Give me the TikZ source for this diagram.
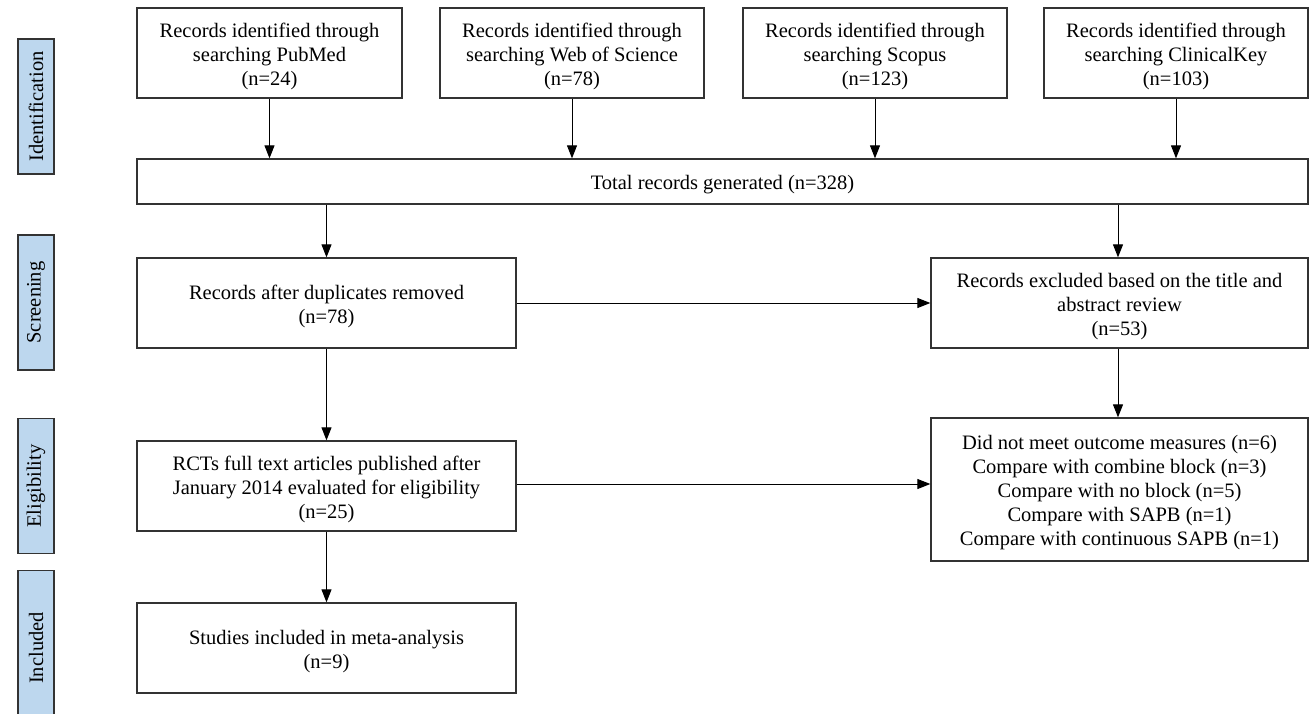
\documentclass[tikz,border=0pt]{standalone}
\usepackage{fontspec}
\setmainfont{Liberation Serif}
\usetikzlibrary{arrows.meta}
\definecolor{labfill}{HTML}{BDD7EE}
\definecolor{boxline}{HTML}{333333}
\tikzset{
  flowbox/.style={draw=boxline, line width=1.3pt, rectangle, align=center, inner sep=0pt,
    font=\fontsize{20.5}{24}\selectfont},
  phase/.style={draw=boxline, fill=labfill, line width=1.3pt, rectangle, inner sep=0pt,
    minimum width=36pt, minimum height=135pt, font=\fontsize{20.5}{24}\selectfont},
  flowarrow/.style={-{Triangle[length=13pt,width=10pt]}, line width=1pt, black}
}
\newcommand{\topstrut}{\rule{0pt}{21pt}}
\begin{document}
\begin{tikzpicture}[x=1pt,y=-1pt]
\useasboundingbox (0,0) rectangle (1311,713);
\fill[white] (0,0) rectangle (1311,713);

% phase labels
\node[phase] (idl) at (36,106.5) {\rotatebox{90}{Identification}};
\node[phase] (scl) at (36,302.5) {\rotatebox{90}{Screening}};
\node[phase] (ell) at (36,486) {\rotatebox{90}{Eligibility}};
\node[phase, minimum height=160pt, anchor=north] (inl) at (36,570) {};
\node (inlt) at (36,648) {\fontsize{20.5}{24}\selectfont\rotatebox{90}{Included}};

% identification boxes
\node[flowbox, minimum width=265pt, minimum height=90pt] (pubmed) at (269.5,53)
  {\topstrut Records identified through\\searching PubMed\\(n=24)};
\node[flowbox, minimum width=264pt, minimum height=90pt] (wos) at (572,53)
  {\topstrut Records identified through\\searching Web of Science\\(n=78)};
\node[flowbox, minimum width=264pt, minimum height=90pt] (scopus) at (875,53)
  {\topstrut Records identified through\\searching Scopus\\(n=123)};
\node[flowbox, minimum width=264pt, minimum height=90pt] (ck) at (1176,53)
  {\topstrut Records identified through\\searching ClinicalKey\\(n=103)};

\node[flowbox, minimum width=1171pt, minimum height=45pt] (total) at (722.5,181.5)
  {\topstrut Total records generated (n=328)};

% screening
\node[flowbox, minimum width=379pt, minimum height=90pt] (dup) at (326.5,303)
  {\topstrut Records after duplicates removed\\(n=78)};
\node[flowbox, minimum width=377pt, minimum height=90pt] (excl) at (1119.5,303)
  {\topstrut Records excluded based on the title and\\abstract review\\(n=53)};

% eligibility
\node[flowbox, minimum width=379pt, minimum height=90pt] (rct) at (326.5,486)
  {\topstrut RCTs full text articles published after\\January 2014 evaluated for eligibility\\(n=25)};
\node[flowbox, minimum width=377pt, minimum height=143pt] (list) at (1119.5,489.5)
  {\topstrut Did not meet outcome measures (n=6)\\Compare with combine block (n=3)\\Compare with no block (n=5)\\Compare with SAPB (n=1)\\Compare with continuous SAPB (n=1)};

% included
\node[flowbox, minimum width=379pt, minimum height=90pt] (incl) at (326.5,648)
  {\topstrut Studies included in meta-analysis\\(n=9)};

% connectors
\draw[flowarrow] (pubmed.south) -- (pubmed.south |- total.north);
\draw[flowarrow] (wos.south) -- (wos.south |- total.north);
\draw[flowarrow] (scopus.south) -- (scopus.south |- total.north);
\draw[flowarrow] (ck.south) -- (ck.south |- total.north);
\draw[flowarrow] (dup.north |- total.south) -- (dup.north);
\draw[flowarrow] ([xshift=-1.5pt]excl.north |- total.south) -- ([xshift=-1.5pt]excl.north);
\draw[flowarrow] (dup.east) -- (excl.west);
\draw[flowarrow] (dup.south) -- (rct.north);
\draw[flowarrow] ([xshift=-1.5pt]excl.south) -- ([xshift=-1.5pt]excl.south |- list.north);
\draw[flowarrow] ([yshift=2pt]rct.east) -- ([yshift=2pt]rct.east -| list.west);
\draw[flowarrow] (rct.south) -- (incl.north);
\end{tikzpicture}
\end{document}
